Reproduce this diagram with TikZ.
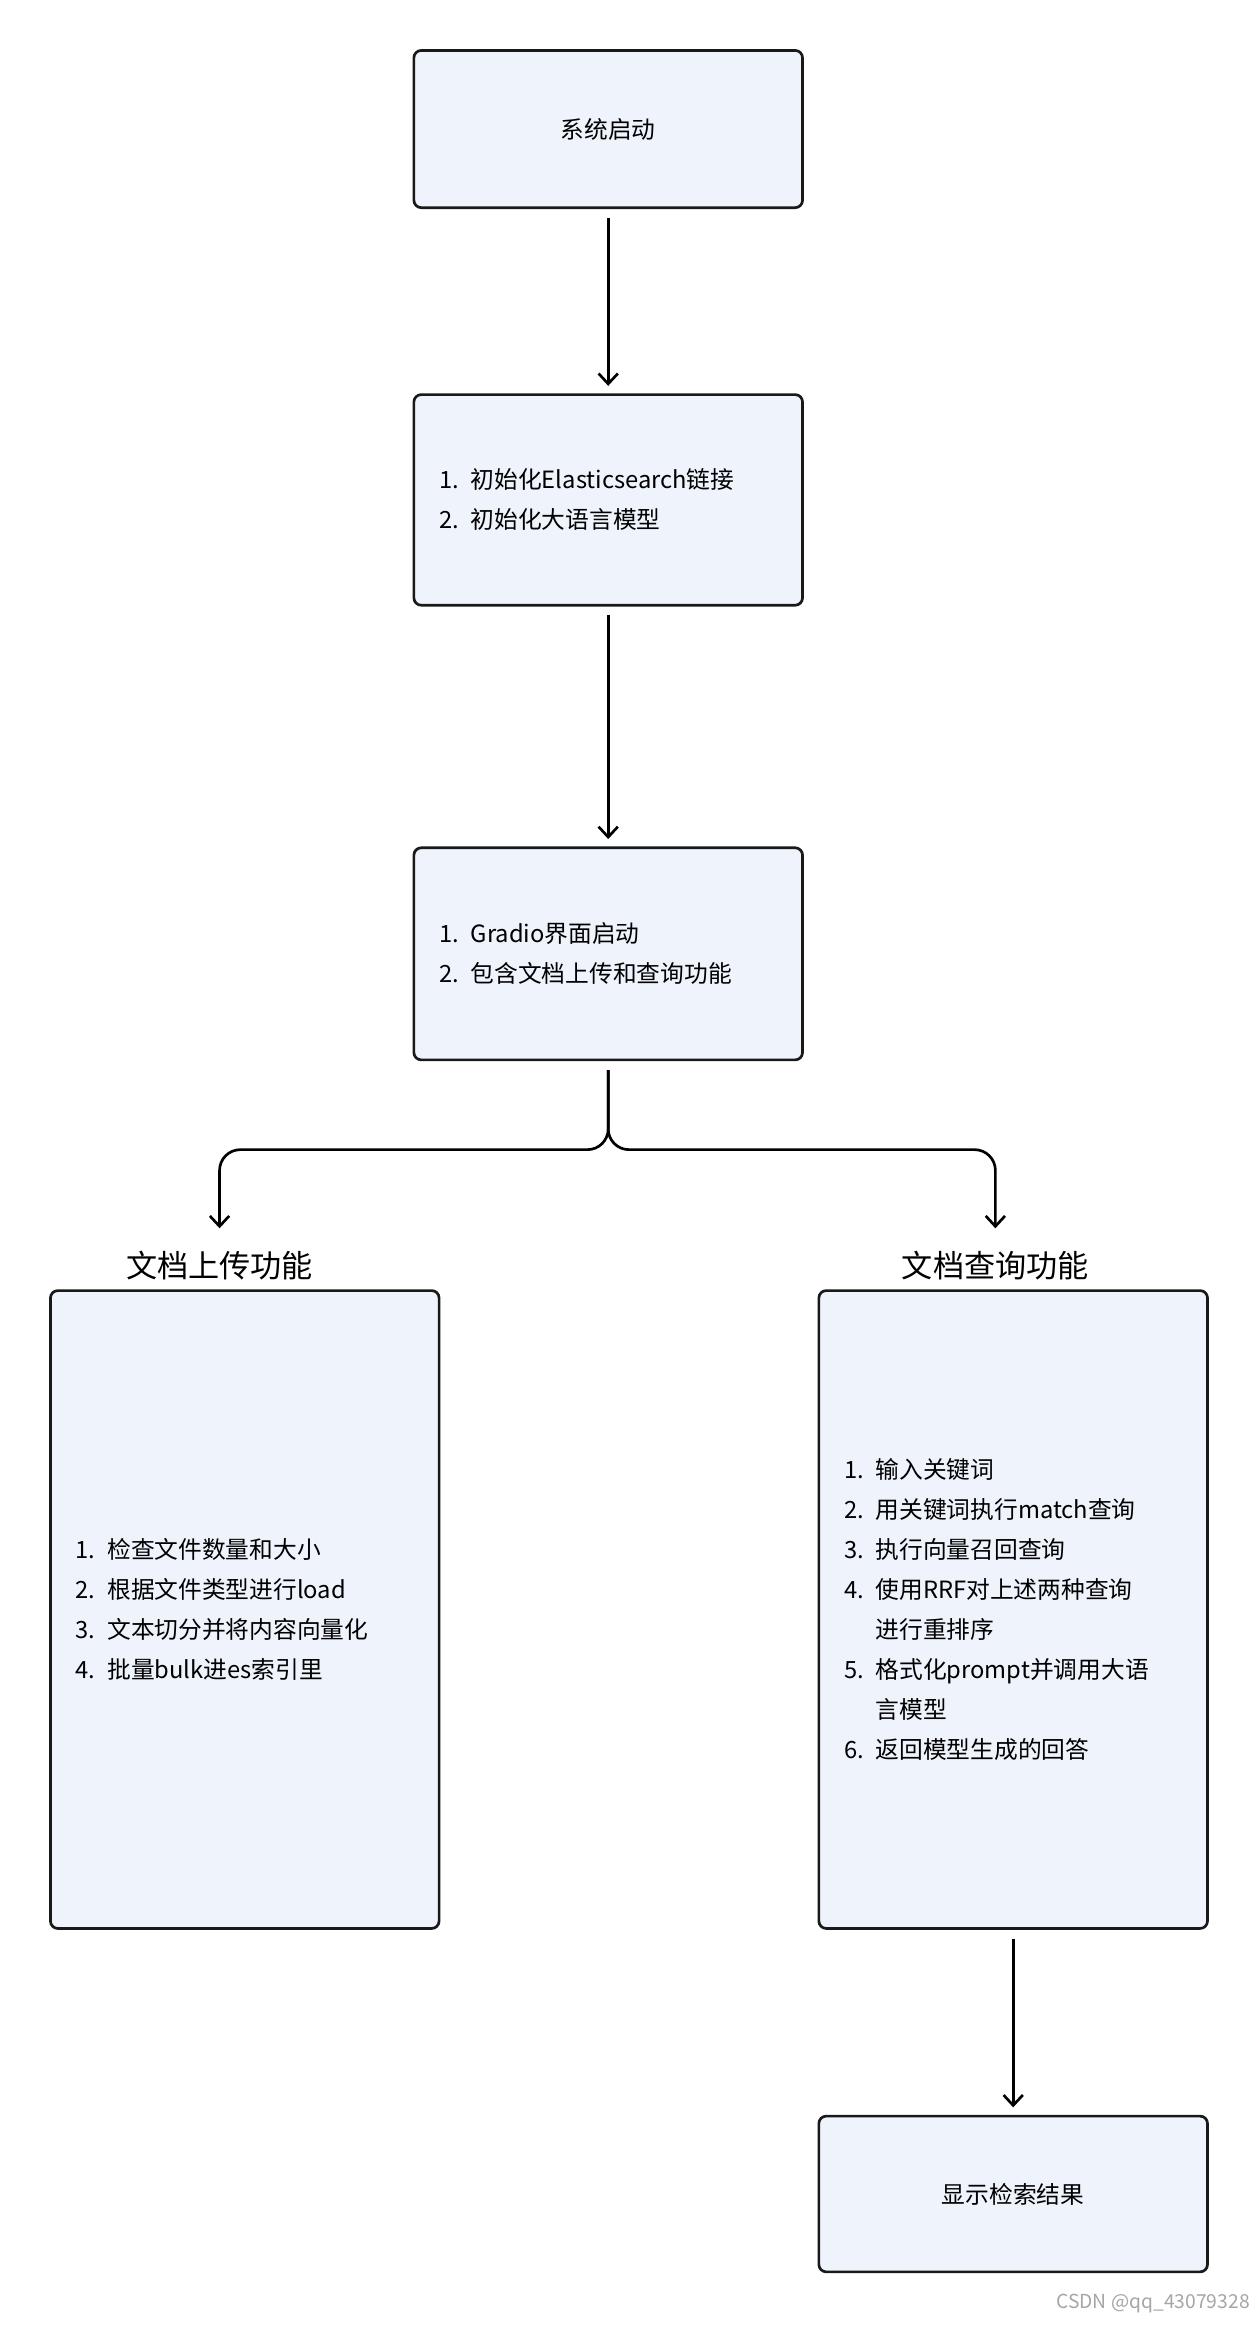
\documentclass[tikz,border=0pt]{standalone}
\usepackage{fontspec}
\setmainfont{Noto Sans CJK SC}
\usetikzlibrary{arrows.meta}
\newcommand{\hh}{\phantom{0. }}
\definecolor{boxfill}{RGB}{238,243,252}
\begin{document}
\begin{tikzpicture}[x=1pt,y=-1pt,
  box/.style={draw=black!90,line width=1.8pt,fill=boxfill,rounded corners=5pt,font=\fontsize{16}{27}\selectfont,inner xsep=0pt},
  lst/.style={box,align=left,text width=228pt},
  arr/.style={-{Straight Barb[length=7pt,width=13pt]},line width=1.8pt},
  ttl/.style={font=\fontsize{21}{24}\selectfont}]
\useasboundingbox[fill=white] (0,0) rectangle (848,1568);
\node[box,minimum width=262pt,minimum height=106pt] (a) at (410,87) {系统启动};
\node[lst,minimum width=262pt,minimum height=142pt] (b) at (410,337) {1. 初始化Elasticsearch链接\\2. 初始化大语言模型};
\node[lst,minimum width=262pt,minimum height=143pt] (c) at (410,643) {1. Gradio界面启动\\2. 包含文档上传和查询功能};
\node[lst,minimum width=262pt,minimum height=430pt] (l) at (165,1085) {1. 检查文件数量和大小\\2. 根据文件类型进行load\\3. 文本切分并将内容向量化\\4. 批量bulk进es索引里};
\node[lst,minimum width=262pt,minimum height=430pt] (r) at (683,1085) {1. 输入关键词\\2. 用关键词执行match查询\\3. 执行向量召回查询\\4. 使用RRF对上述两种查询\\\hh{}进行重排序\\5. 格式化prompt并调用大语\\\hh{}言模型\\6. 返回模型生成的回答};
\node[box,minimum width=262pt,minimum height=105pt] (d) at (683,1479) {显示检索结果};
\node[ttl] (lt) at (148,853) {文档上传功能};
\node[ttl] (rt) at (671,853) {文档查询功能};
\node[font=\fontsize{13}{14}\selectfont,text=black!35,anchor=east] (w) at (846,1553) {CSDN @qq\_43079328};
\draw[arr] ([yshift=-6pt]a.south) -- ([yshift=5pt]b.north);
\draw[arr] ([yshift=-6pt]b.south) -- ([yshift=5pt]c.north);
\coordinate (j) at (410,775);
\draw[arr,rounded corners=14pt] ([yshift=-6pt]c.south) -- (j) -- (148,775) -- (148,828);
\draw[arr,rounded corners=14pt] ([yshift=-6pt]c.south) -- (j) -- (671,775) -- (671,828);
\draw[arr] ([yshift=-6pt]r.south) -- ([yshift=5pt]d.north);
\end{tikzpicture}
\end{document}
